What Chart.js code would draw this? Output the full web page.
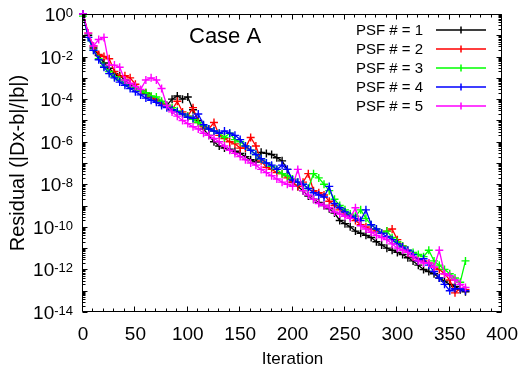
<!DOCTYPE html>
<html><head><meta charset="utf-8">
<script src="https://cdn.jsdelivr.net/npm/chart.js@4.4.0/dist/chart.umd.min.js"></script>
<style>html,body{margin:0;padding:0;background:#fff}canvas{display:block}</style>
</head><body>
<canvas id="c" width="529" height="375"></canvas>
<script>
// Iteration numbers (x)
const iterations = [0,5,10,15,20,25,30,35,40,45,50,55,60,65,70,75,80,85,90,95,100,105,110,115,120,125,130,135,140,145,150,155,160,165,170,175,180,185,190,195,200,205,210,215,220,225,230,235,240,245,250,255,260,265,270,275,280,285,290,295,300,305,310,315,320,325,330,335,340,345,350,355,360,365];

// Residuals, stored as log10 exponents (residual = 10^value)
const psf1 = [0,-1.0,-1.6,-1.95,-2.3,-2.55,-2.8,-2.9,-3.1,-3.3,
  -3.5,-3.6,-3.75,-3.9,-4.05,-4.2,-4.3,-4.0,-3.85,-4.0,
  -3.9,-4.5,-5.0,-5.4,-5.7,-6.0,-6.2,-6.3,-6.35,-6.45,
  -6.55,-6.7,-6.85,-6.95,-6.5,-6.55,-6.6,-6.75,-6.9,-7.3,
  -7.9,-8.1,-8.3,-8.55,-8.7,-8.85,-9.0,-9.15,-9.35,-9.7,
  -9.85,-10.0,-10.2,-10.3,-10.4,-10.5,-10.7,-10.85,-11.0,-11.1,
  -11.2,-11.3,-11.45,-11.6,-11.8,-12.0,-12.1,-12.2,-12.4,-12.55,
  -12.7,-12.8,-12.95,-13.05];
const psf2 = [0,-0.9,-1.5,-1.9,-2.0,-2.1,-2.7,-2.95,-2.9,-3.0,
  -3.3,-3.6,-3.7,-3.9,-4.0,-4.2,-4.35,-4.5,-4.1,-4.6,
  -4.8,-4.4,-5.1,-5.3,-5.4,-5.1,-5.7,-5.85,-6.0,-6.1,
  -6.3,-6.3,-5.8,-6.2,-6.9,-7.2,-7.3,-7.45,-7.5,-7.7,
  -7.9,-8.1,-7.9,-7.5,-8.3,-8.4,-8.5,-8.8,-9.0,-9.2,
  -9.4,-9.5,-9.7,-9.9,-10.0,-10.1,-10.2,-10.3,-10.2,-10.1,
  -10.6,-10.9,-11.2,-11.4,-11.5,-11.6,-11.7,-11.9,-12.0,-12.2,
  -12.5,-13.1,-12.9,-12.95];
const psf3 = [-0.1,-1.1,-1.7,-2.1,-2.45,-2.7,-2.95,-3.1,-3.25,-3.4,
  -3.5,-3.6,-3.7,-3.85,-3.9,-4.1,-4.3,-4.4,-4.55,-4.7,
  -4.8,-4.95,-5.1,-5.25,-5.4,-5.5,-5.6,-5.8,-5.6,-5.9,
  -6.0,-6.2,-6.4,-6.6,-6.8,-7.0,-7.15,-7.3,-7.5,-7.6,
  -7.75,-7.9,-8.0,-8.2,-7.5,-7.7,-8.0,-8.3,-8.7,-9.0,
  -9.2,-9.4,-9.5,-9.2,-9.6,-9.9,-10.1,-10.3,-10.2,-10.5,
  -10.7,-10.9,-11.1,-11.2,-11.3,-11.4,-11.1,-11.6,-11.8,-12.0,
  -12.2,-12.4,-12.6,-11.6];
const psf4 = [0,-1.1,-1.7,-2.15,-2.5,-2.8,-3.0,-3.2,-3.35,-3.5,
  -3.65,-3.8,-3.95,-4.05,-4.15,-4.3,-4.4,-4.5,-4.6,-4.7,
  -4.85,-4.9,-4.7,-5.2,-5.4,-5.5,-5.6,-5.5,-5.6,-5.7,
  -5.9,-6.2,-6.4,-6.6,-6.8,-7.0,-7.1,-7.3,-7.1,-7.3,
  -7.8,-7.9,-8.0,-8.2,-8.4,-8.5,-8.6,-8.1,-8.9,-9.1,
  -9.3,-9.5,-9.6,-9.7,-9.2,-9.9,-10.1,-10.3,-10.45,-10.6,
  -10.8,-10.95,-11.1,-11.3,-11.6,-11.5,-11.8,-12.1,-12.4,-12.7,
  -13.0,-12.9,-12.9,-13.0];
const psf5 = [0,-0.9,-1.5,-1.2,-1.1,-2.4,-2.4,-2.5,-3.1,-3.25,
  -3.4,-3.55,-3.1,-3.0,-3.1,-3.5,-4.3,-4.6,-4.8,-5.0,
  -5.15,-5.3,-5.4,-5.6,-5.7,-5.85,-6.0,-6.2,-6.4,-6.55,
  -6.7,-6.85,-7.0,-7.1,-7.3,-7.45,-7.6,-7.75,-7.9,-8.0,
  -8.1,-7.3,-8.3,-8.5,-8.7,-8.9,-9.0,-9.1,-9.3,-9.4,
  -9.5,-9.6,-9.1,-9.95,-10.1,-10.25,-10.4,-10.5,-10.6,-10.8,
  -11.0,-11.1,-11.2,-11.4,-11.6,-11.7,-11.7,-11.9,-11.1,-12.2,
  -12.3,-12.5,-12.7,-12.85];

const seriesNames = ['PSF # = 1','PSF # = 2','PSF # = 3','PSF # = 4','PSF # = 5'];
const seriesColors = ['#000000','#ff0000','#00ff00','#0000ff','#ff00ff'];
const xTickValues = [0,50,100,150,200,250,300,350,400];
const yTickExponents = [0,-2,-4,-6,-8,-10,-12,-14];
const caseLabel = 'Case A';
const xTitle = 'Iteration';
const yTitle = 'Residual (|Dx-b|/|b|)';

const FONT = '"Liberation Sans", Arial, Helvetica, sans-serif';
const allSeries = [psf1, psf2, psf3, psf4, psf5];

const datasets = allSeries.map((arr, i) => ({
  label: seriesNames[i],
  data: arr.map((v, j) => ({x: iterations[j], y: Math.pow(10, v)})),
  borderColor: seriesColors[i],
  backgroundColor: seriesColors[i],
  borderWidth: 1.3,
  pointStyle: 'cross',
  pointRadius: 4,
  pointHoverRadius: 4,
  pointBorderWidth: 1.4,
  tension: 0,
  fill: false,
  clip: false,
  order: 5 - i
}));

const decor = {
  id: 'decor',
  afterDatasetsDraw(chart) {
    const {ctx, chartArea: a, scales: {x, y}} = chart;
    ctx.save();
    ctx.strokeStyle = '#000';
    ctx.lineWidth = 1;
    const L = Math.round(a.left) - 0.5, R = Math.round(a.right) - 0.5;
    const T = Math.round(a.top) + 0.5, B = Math.round(a.bottom) - 0.5;
    ctx.beginPath();
    ctx.rect(L, T, R - L, B - T);
    for (let v = x.min; v <= x.max; v += 10) {
      const px = Math.round(x.getPixelForValue(v)) - 0.5;
      const len = (v % 50 === 0) ? 5 : 3;
      ctx.moveTo(px, B); ctx.lineTo(px, B - len);
      ctx.moveTo(px, T); ctx.lineTo(px, T + len);
    }
    for (let e = -14; e <= 0; e++) {
      const pyM = Math.round(y.getPixelForValue(Math.pow(10, e))) + 0.5;
      ctx.moveTo(L, pyM); ctx.lineTo(L + 5, pyM);
      ctx.moveTo(R, pyM); ctx.lineTo(R - 5, pyM);
      if (e < 0) {
        for (let m = 2; m <= 9; m++) {
          const py = Math.round(y.getPixelForValue(m * Math.pow(10, e))) + 0.5;
          ctx.moveTo(L, py); ctx.lineTo(L + 3, py);
          ctx.moveTo(R, py); ctx.lineTo(R - 3, py);
        }
      }
    }
    ctx.stroke();

    ctx.fillStyle = '#000';
    const right = a.left - 10;
    for (const e of yTickExponents) {
      const py = y.getPixelForValue(Math.pow(10, e));
      ctx.font = '13px ' + FONT;
      const es = String(e);
      const ew = ctx.measureText(es).width;
      ctx.textAlign = 'left';
      ctx.textBaseline = 'alphabetic';
      ctx.fillText(es, right - ew, py + 3);
      ctx.font = '19px ' + FONT;
      ctx.textAlign = 'right';
      ctx.fillText('10', right - ew, py + 7);
    }

    ctx.font = '22px ' + FONT;
    ctx.textAlign = 'left';
    ctx.textBaseline = 'alphabetic';
    ctx.fillText(caseLabel, a.left + 106, a.top + 29);

    const textRight = a.left + 340;
    const lx0 = a.left + 353, lx1 = a.left + 403;
    for (let i = 0; i < seriesNames.length; i++) {
      const ry = a.top + 16 + i * 19;
      ctx.font = '15px ' + FONT;
      ctx.textAlign = 'right';
      ctx.textBaseline = 'middle';
      ctx.fillStyle = '#000';
      ctx.fillText(seriesNames[i], textRight, ry + 1);
      ctx.strokeStyle = seriesColors[i];
      ctx.lineWidth = 1.5;
      ctx.beginPath();
      const yy = Math.round(ry);
      ctx.moveTo(lx0, yy); ctx.lineTo(lx1, yy);
      const mx = Math.round((lx0 + lx1) / 2);
      ctx.moveTo(mx, yy - 3.5); ctx.lineTo(mx, yy + 3.5);
      ctx.stroke();
    }
    ctx.restore();
  }
};

new Chart(document.getElementById('c'), {
  type: 'line',
  data: {datasets},
  options: {
    responsive: false,
    animation: false,
    events: [],
    layout: {padding: {left: 0, right: 22, top: 14, bottom: 0}},
    plugins: {legend: {display: false}, tooltip: {enabled: false}},
    scales: {
      x: {
        type: 'linear',
        min: 0, max: 400,
        afterBuildTicks: (s) => { s.ticks = xTickValues.map(v => ({value: v})); },
        ticks: {font: {family: FONT, size: 19}, color: '#000', padding: 11, maxRotation: 0, autoSkip: false},
        grid: {display: false, drawTicks: false},
        border: {display: false},
        title: {display: true, text: xTitle, color: '#000', font: {family: FONT, size: 17}, padding: {top: 0, bottom: 5}},
        afterFit: (s) => { s.height = 63; }
      },
      y: {
        type: 'logarithmic',
        min: 1e-14, max: 1,
        afterBuildTicks: (s) => { s.ticks = yTickExponents.map(e => ({value: Math.pow(10, e)})); },
        ticks: {display: false},
        grid: {display: false, drawTicks: false},
        border: {display: false},
        title: {display: true, text: yTitle, color: '#000', font: {family: FONT, size: 20}, padding: {top: 6, bottom: 0}},
        afterFit: (s) => { s.width = 83; }
      }
    }
  },
  plugins: [decor]
});
</script>
</body></html>
